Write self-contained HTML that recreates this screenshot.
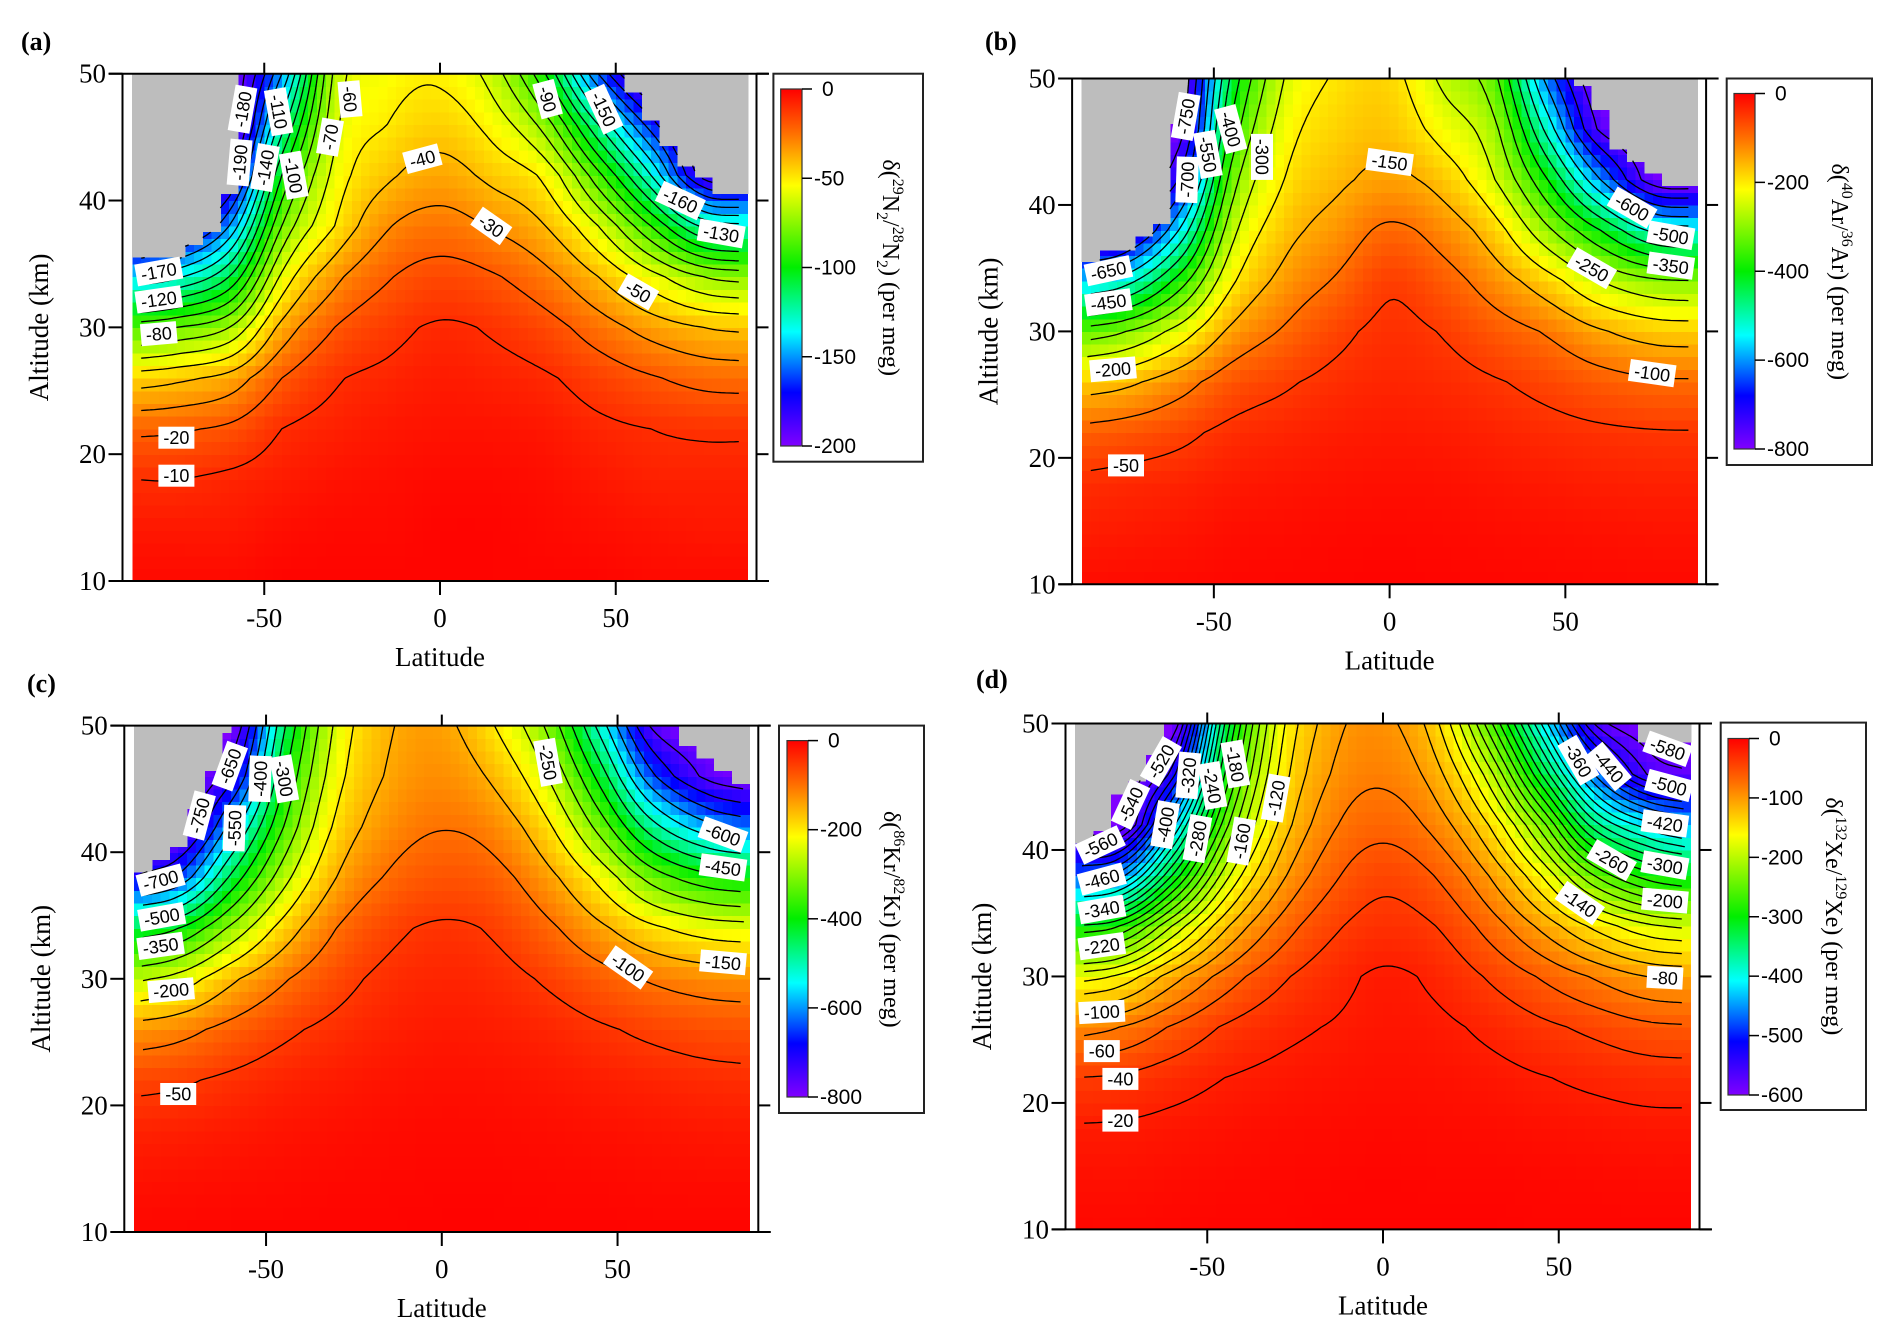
<!DOCTYPE html>
<html><head><meta charset="utf-8">
<style>
html,body{margin:0;padding:0;background:#fff;}
svg{display:block;}
.tk{font-family:"Liberation Serif",serif;font-size:27px;fill:#000;}
.cbt{font-family:"Liberation Sans",sans-serif;font-size:21px;fill:#000;}
.cl{font-family:"Liberation Sans",sans-serif;font-size:18px;fill:#000;}
.ttl{font-family:"Liberation Serif",serif;font-size:24px;fill:#000;}
.let{font-family:"Liberation Serif",serif;font-size:26px;font-weight:bold;fill:#000;}
</style></head>
<body>
<svg id="chart" width="1892" height="1339" viewBox="0 0 1892 1339" xmlns="http://www.w3.org/2000/svg">
<defs>
<linearGradient id="cgrad" x1="0" y1="0" x2="0" y2="1">
<stop offset="0" stop-color="#ff0000"/><stop offset="0.125" stop-color="#ff7000"/><stop offset="0.27" stop-color="#ffff00"/><stop offset="0.5" stop-color="#00ee00"/><stop offset="0.68" stop-color="#00ffff"/><stop offset="0.85" stop-color="#0000ff"/><stop offset="1" stop-color="#8000ff"/>
</linearGradient>
</defs>
</svg>
<script>
// ---- shared grid ----
const latNodes=[-87.5,-75,-60,-45,-30,-15,0,15,30,45,60,75,87.5];
const altNodes=[10,14,18,22,26,30,34,38,42,46,50];
const latTicks=[-50,0,50];
const altTicks=[10,20,30,40,50];

// ---- panel (a) N2 : one column per latNode, values at altNodes ----
const fieldA=[
[-2,-5,-10,-22,-45,-85,-140,-200,-200,-200,-200],
[-2,-5,-10,-21,-42,-80,-132,-185,-200,-200,-200],
[-2,-5,-8,-18,-36,-70,-110,-150,-185,-200,-200],
[-1,-3,-6,-10,-20,-37,-58,-80,-100,-125,-150],
[-1,-2,-4,-7,-11,-20,-33,-50,-57,-63,-68],
[-1,-2,-3,-5,-8,-13,-21,-31,-42,-50,-55],
[-1,-1,-2,-4,-6,-9,-16,-26,-36,-45,-52],
[-1,-1,-2,-4,-7,-11,-19,-31,-43,-54,-65],
[-1,-2,-3,-5,-9,-16,-27,-40,-53,-75,-100],
[-1,-3,-5,-8,-14,-25,-40,-60,-87,-120,-160],
[-2,-4,-7,-10,-19,-34,-56,-90,-130,-165,-200],
[-2,-5,-7,-11,-23,-40,-70,-122,-185,-200,-200],
[-2,-5,-7,-11,-24,-42,-74,-128,-190,-200,-200]];
const levelsA=[-10,-20,-30,-40,-50,-60,-70,-80,-90,-100,-110,-120,-130,-140,-150,-160,-170,-180,-190];
const cbarTicksA=[0,-50,-100,-150,-200];
const maskA=[[-90,-72.5,35.5],[-72.5,-67.5,36.5],[-67.5,-62.5,37.5],[-62.5,-57.5,40.5],[52.5,57.5,48.5],[57.5,62.5,46.3],[62.5,67.5,44.3],[67.5,72.5,42.7],[72.5,77.5,41.8],[77.5,90,40.5]];
const labelsA=[[-57,43,'-190',-85],[-56.2,47.2,'-180',-80],[-45.9,47,'-110',80],[-49.8,42.6,'-140',-80],[-41.6,42,'-100',80],[-31.3,45,'-70',-80],[-25.6,48,'-60',85],[-5,43.3,'-40',-15],[14.6,38,'-30',35],[30.6,48,'-90',75],[46.6,47.2,'-150',65],[68.4,40,'-160',25],[80,37.4,'-130',10],[56.4,32.8,'-50',30],[-80,34.4,'-170',-10],[-80,32.2,'-120',-8],[-80,29.5,'-80',-5],[-75,21.3,'-20',0],[-75,18.3,'-10',0]];

// ---- panel (b) Ar ----
const fieldB=[
[-10,-25,-40,-85,-175,-330,-570,-800,-800,-800,-800],
[-9,-22,-35,-75,-160,-300,-520,-750,-800,-800,-800],
[-8,-18,-30,-60,-120,-230,-380,-550,-700,-780,-800],
[-6,-12,-22,-40,-75,-140,-210,-270,-330,-390,-440],
[-5,-10,-18,-32,-55,-95,-135,-170,-200,-225,-250],
[-4,-8,-15,-25,-40,-60,-95,-130,-160,-180,-195],
[-3,-7,-13,-22,-33,-42,-55,-92,-140,-170,-185],
[-4,-8,-14,-24,-37,-52,-80,-120,-170,-220,-260],
[-5,-10,-18,-30,-47,-78,-125,-180,-250,-290,-340],
[-6,-12,-22,-37,-62,-105,-180,-290,-400,-520,-620],
[-7,-14,-26,-43,-80,-145,-250,-400,-600,-760,-800],
[-8,-16,-28,-47,-93,-170,-290,-510,-780,-800,-800],
[-8,-16,-28,-48,-95,-175,-300,-530,-800,-800,-800]];
const levelsB=[-50,-100,-150,-200,-250,-300,-350,-400,-450,-500,-550,-600,-650,-700,-750];
const cbarTicksB=[0,-200,-400,-600,-800];
const maskB=[[-90,-82.5,35.5],[-82.5,-72.5,36.4],[-72.5,-67.5,37.5],[-67.5,-62.5,38.5],[-62.5,-57.5,46.4],[52.5,57.5,49.4],[57.5,62.5,47.5],[62.5,67.5,44.4],[67.5,72.5,43.4],[72.5,77.5,42.5],[77.5,90,41.5]];
const labelsB=[[-58,47,'-750',-80],[-57.6,42,'-700',-88],[-51.7,44,'-550',80],[-45.2,46,'-400',75],[-36.3,43.8,'-300',90],[0,43.4,'-150',8],[69,39.8,'-600',30],[80,37.6,'-500',10],[80,35.2,'-350',8],[57.5,35,'-250',30],[74.7,26.7,'-100',8],[-80,34.8,'-650',-12],[-80,32.3,'-450',-8],[-78.7,27,'-200',-5],[-75,19.4,'-50',0]];

// ---- panel (c) Kr ----
const fieldC=[
[-5,-15,-30,-60,-130,-260,-440,-700,-800,-800,-800],
[-5,-13,-27,-55,-115,-230,-400,-640,-800,-800,-800],
[-4,-11,-22,-42,-85,-160,-290,-440,-580,-720,-800],
[-4,-9,-17,-30,-58,-105,-180,-270,-350,-410,-460],
[-3,-7,-13,-23,-40,-65,-100,-150,-190,-220,-240],
[-3,-6,-10,-17,-28,-40,-60,-95,-125,-145,-155],
[-2,-5,-8,-14,-22,-32,-45,-75,-102,-125,-140],
[-2,-5,-9,-15,-25,-37,-55,-85,-120,-160,-200],
[-3,-6,-11,-19,-32,-55,-90,-135,-190,-250,-310],
[-3,-7,-14,-25,-45,-80,-140,-215,-320,-420,-520],
[-4,-9,-17,-31,-58,-105,-190,-320,-480,-640,-760],
[-4,-10,-20,-37,-68,-120,-220,-380,-580,-760,-800],
[-4,-10,-21,-40,-72,-125,-230,-400,-620,-800,-800]];
const levelsC=[-50,-100,-150,-200,-250,-300,-350,-400,-450,-500,-550,-600,-650,-700,-750];
const cbarTicksC=[0,-200,-400,-600,-800];
const maskC=[[-90,-82.5,38.4],[-82.5,-77.5,39.4],[-77.5,-72.5,40.4],[-72.5,-67.5,43.4],[-67.5,-62.5,46.4],[-62.5,-60,49.4],[67.5,72.5,48.4],[72.5,77.5,47.4],[77.5,82.5,46.4],[82.5,90,45.4]];
const labelsC=[[-60.3,46.8,'-650',-70],[-69,42.9,'-750',-75],[-59,41.9,'-550',-88],[-51.7,45.8,'-400',-88],[-44.8,45.8,'-300',80],[30.2,47.1,'-250',80],[80,41.4,'-600',20],[80,38.8,'-450',8],[80,31.3,'-150',5],[53,30.9,'-100',35],[-80,37.8,'-700',-15],[-79.7,34.9,'-500',-10],[-80,32.6,'-350',-8],[-77,29.1,'-200',-5],[-75,20.9,'-50',0]];

// ---- panel (d) Xe ----
const fieldD=[
[-5,-10,-18,-40,-90,-170,-300,-480,-600,-600,-600],
[-5,-10,-17,-37,-80,-155,-280,-450,-600,-600,-600],
[-4,-8,-14,-28,-58,-110,-200,-320,-430,-530,-600],
[-3,-6,-11,-20,-38,-72,-125,-190,-250,-300,-340],
[-3,-5,-8,-15,-26,-45,-75,-110,-140,-160,-175],
[-2,-4,-7,-12,-19,-28,-45,-66,-85,-100,-110],
[-2,-3,-6,-10,-14,-17,-32,-46,-68,-85,-95],
[-2,-4,-7,-11,-16,-24,-40,-61,-88,-112,-135],
[-2,-4,-8,-14,-24,-42,-68,-100,-140,-190,-250],
[-3,-5,-10,-19,-35,-62,-105,-160,-230,-320,-400],
[-3,-6,-12,-24,-45,-82,-145,-240,-350,-460,-560],
[-3,-7,-14,-28,-55,-100,-175,-290,-410,-560,-600],
[-3,-7,-14,-29,-58,-105,-185,-310,-440,-580,-600]];
const levelsD=[-20,-40,-60,-80,-100,-120,-140,-160,-180,-200,-220,-240,-260,-280,-300,-320,-340,-360,-380,-400,-420,-440,-460,-480,-500,-520,-540,-560,-580];
const cbarTicksD=[0,-100,-200,-300,-400,-500,-600];
const maskD=[[-90,-82.5,40.5],[-82.5,-77.5,41.5],[-77.5,-72.5,44.4],[-72.5,-67.5,45.4],[-67.5,-62.5,47.5],[72.5,90,48.5]];
const labelsD=[[-63.2,47,'-520',-60],[-71.8,43.6,'-540',-65],[-80.4,40.4,'-560',-25],[-80,37.7,'-460',-15],[-80,35.3,'-340',-10],[-80,32.4,'-220',-8],[-80,27.2,'-100',-3],[-80,24.1,'-60',0],[-74.7,21.9,'-40',0],[-74.7,18.6,'-20',0],[-55.4,45.9,'-320',-85],[-62,42,'-400',-80],[-48.5,45.1,'-240',80],[-52.8,40.9,'-280',-80],[-42,46.8,'-180',80],[-40.3,40.7,'-160',-80],[-30.5,44.1,'-120',-80],[55.6,47.1,'-360',60],[64.2,46.6,'-440',50],[81,48,'-580',20],[81.4,45.1,'-500',15],[80.2,42.1,'-420',8],[65,39.2,'-260',30],[80.2,38.8,'-300',10],[80.2,36,'-200',5],[56,35.8,'-140',35],[80.2,29.9,'-80',3]];

const panels=[
 {id:'a',field:fieldA,levels:levelsA,ticks:cbarTicksA,mask:maskA,labels:labelsA,vmin:-200,x0:440,y50:73.7,y10:581,cb:[773.4,73.7,923,461.7],gr:[780.7,89,802,446],letter:[21,50],t:['29','N','2','28','N','2']},
 {id:'b',field:fieldB,levels:levelsB,ticks:cbarTicksB,mask:maskB,labels:labelsB,vmin:-800,x0:1389.6,y50:78.5,y10:584.3,cb:[1726.7,78.5,1872,465],gr:[1734,93.5,1755,449],letter:[985,50],t:['40','Ar','','36','Ar','']},
 {id:'c',field:fieldC,levels:levelsC,ticks:cbarTicksC,mask:maskC,labels:labelsC,vmin:-800,x0:441.8,y50:725.6,y10:1232,cb:[779,725.6,924,1113],gr:[787,740.6,808,1097],letter:[27,692],t:['86','Kr','','82','Kr','']},
 {id:'d',field:fieldD,levels:levelsD,ticks:cbarTicksD,mask:maskD,labels:labelsD,vmin:-600,x0:1383,y50:723.5,y10:1229.4,cb:[1720.7,722.6,1866,1110],gr:[1728,738.5,1749,1095],letter:[976,688],t:['132','Xe','','129','Xe','']}
];

const PPD=3.515;
const NS='http://www.w3.org/2000/svg';
const svg=document.getElementById('chart');
const stops=[[0,[255,0,0]],[0.125,[255,112,0]],[0.27,[255,255,0]],[0.5,[0,238,0]],[0.68,[0,255,255]],[0.85,[0,0,255]],[1,[128,0,255]]];
function cmap(t){t=Math.max(0,Math.min(1,t));for(let i=0;i<stops.length-1;i++){const a=stops[i],b=stops[i+1];if(t<=b[0]){const f=(t-a[0])/(b[0]-a[0]);return 'rgb('+a[1].map((c,k)=>Math.round(c+(b[1][k]-c)*f)).join(',')+')';}}return 'rgb(128,0,255)';}
function mk(tag,attrs,parent){const e=document.createElementNS(NS,tag);for(const k in attrs)e.setAttribute(k,attrs[k]);(parent||svg).appendChild(e);return e;}
function idx(nodes,v){let i=0;while(i<nodes.length-2&&v>nodes[i+1])i++;return i;}
function colAt(F,i,alt){const j=idx(altNodes,alt);const fy=Math.max(0,Math.min(1,(alt-altNodes[j])/(altNodes[j+1]-altNodes[j])));return F[i][j]*(1-fy)+F[i][j+1]*fy;}
function val(F,lat,alt){const i=idx(latNodes,lat);const t=Math.max(0,Math.min(1,(lat-latNodes[i])/(latNodes[i+1]-latNodes[i])));
 const n=latNodes.length;const p1=colAt(F,i,alt),p2=colAt(F,i+1,alt);
 const p0=i>0?colAt(F,i-1,alt):2*p1-p2;const p3=i+2<n?colAt(F,i+2,alt):2*p2-p1;
 const t2=t*t,t3=t2*t;
 let v=0.5*((2*p1)+(-p0+p2)*t+(2*p0-5*p1+4*p2-p3)*t2+(-p0+3*p1-3*p2+p3)*t3);
 return Math.min(v,0);}
function maskTop(M,lat){for(const s of M){if(lat>=s[0]&&lat<s[1])return s[2];}return 50;}

panels.forEach(P=>{
 const X=lat=>P.x0+lat*PPD;
 const Y=alt=>P.y10+(alt-10)*(P.y50-P.y10)/40;
 const g=mk('g',{});
 
 
 const hm=mk('g',{'shape-rendering':'crispEdges'},g);
 
 
 for(let lat=-87.5;lat<87.49;lat+=2.5){for(let alt=10;alt<50;alt+=1){
  const v=val(P.field,lat+1.25,alt+0.5);
  const r=mk('rect',{x:X(lat).toFixed(1),y:Y(alt+1).toFixed(1),width:(2.5*PPD+0.6).toFixed(1),height:((P.y10-P.y50)/40+0.6).toFixed(1),fill:cmap(v/P.vmin)},hm);
  
  
 }}
 P.mask.forEach(s=>{const l=Math.max(s[0],-87.6),h=Math.min(s[1],87.6);
  const r=mk('rect',{x:X(l),y:Y(50),width:X(h)-X(l)+0.5,height:Y(s[2])-Y(50),fill:'#bdbdbd'},hm);
  
  });
 const dl=1.25,da=0.25;const nx=Math.round(175/dl)+1,ny=Math.round(40/da)+1;
 const grid=[];for(let i=0;i<nx;i++){grid.push([]);for(let j=0;j<ny;j++)grid[i].push(val(P.field,-87.5+i*dl,10+j*da));}
 const cg=mk('g',{fill:'none',stroke:'#000','stroke-width':1.3},g);
 
 
 P.levels.forEach(L=>{let d='';
  for(let i=0;i<nx-1;i++)for(let j=0;j<ny-1;j++){
   const c=[[i,j],[i+1,j],[i+1,j+1],[i,j+1]];const pts=[];
   for(let k=0;k<4;k++){const p=c[k],q=c[(k+1)%4];const vp=grid[p[0]][p[1]]-L,vq=grid[q[0]][q[1]]-L;
    if((vp<0)!==(vq<0)){const f=vp/(vp-vq);pts.push([-87.5+(p[0]+(q[0]-p[0])*f)*dl,10+(p[1]+(q[1]-p[1])*f)*da]);}}
   for(let k=0;k+1<pts.length;k+=2){const ml=(pts[k][0]+pts[k+1][0])/2,ma=(pts[k][1]+pts[k+1][1])/2;
    if(ma>maskTop(P.mask,ml)||ml<-85.5||ml>85.5)continue;
    d+='M'+X(pts[k][0]).toFixed(1)+' '+Y(pts[k][1]).toFixed(1)+'L'+X(pts[k+1][0]).toFixed(1)+' '+Y(pts[k+1][1]).toFixed(1);}
  }
  const p=mk('path',{d:d},cg);
  
  
 });
 P.labels.forEach(Lb=>{const lg=mk('g',{transform:'translate('+X(Lb[0]).toFixed(1)+','+Y(Lb[1]).toFixed(1)+') rotate('+Lb[3]+')'},g);
  
  
  const w=Lb[2].length*10+6;
  mk('rect',{x:-w/2,y:-11,width:w,height:22,fill:'#fff'},lg);
  const t=mk('text',{x:0,y:6.5,'text-anchor':'middle',class:'cl'},lg);t.textContent=Lb[2];});
 const ax=mk('g',{stroke:'#000','stroke-width':2,fill:'none'},g);
 
 
 const xl=P.x0-317.5,xr=P.x0+316.5;
 mk('line',{x1:xl,y1:P.y50,x2:xl,y2:P.y10},ax);
 mk('line',{x1:xr,y1:P.y50,x2:xr,y2:P.y10},ax);
 mk('line',{x1:P.x0-331,y1:P.y50,x2:P.x0+329,y2:P.y50},ax);
 mk('line',{x1:P.x0-331,y1:P.y10,x2:P.x0+329,y2:P.y10},ax);
 latTicks.forEach(v=>{mk('line',{x1:X(v),y1:P.y10,x2:X(v),y2:P.y10+14},ax);mk('line',{x1:X(v),y1:P.y50,x2:X(v),y2:P.y50-11},ax);
  const t=mk('text',{x:X(v),y:P.y10+46,'text-anchor':'middle',class:'tk',stroke:'none'},g);t.textContent=v;
  
  });
 altTicks.forEach(v=>{mk('line',{x1:xl-14,y1:Y(v),x2:xl,y2:Y(v)},ax);mk('line',{x1:xr,y1:Y(v),x2:xr+12,y2:Y(v)},ax);
  const t=mk('text',{x:P.x0-334,y:Y(v)+9,'text-anchor':'end',class:'tk'},g);t.textContent=v;
  
  });
 const xt=mk('text',{x:P.x0,y:P.y10+85,'text-anchor':'middle',class:'tk'},g);xt.textContent='Latitude';
 
 
 const yt=mk('text',{x:0,y:0,'text-anchor':'middle',class:'tk',transform:'translate('+(P.x0-392)+','+((P.y10+P.y50)/2)+') rotate(-90)'},g);yt.textContent='Altitude (km)';
 
 
 const lt=mk('text',{x:P.letter[0],y:P.letter[1],class:'let'},g);lt.textContent='('+P.id+')';
 
 
 const cb=mk('g',{},g);
 
 
 mk('rect',{x:P.cb[0],y:P.cb[1],width:P.cb[2]-P.cb[0],height:P.cb[3]-P.cb[1],fill:'#fff',stroke:'#222','stroke-width':2},cb);
 mk('rect',{x:P.gr[0],y:P.gr[1],width:P.gr[2]-P.gr[0],height:P.gr[3]-P.gr[1],fill:'url(#cgrad)',stroke:'#333','stroke-width':1.2},cb);
 P.ticks.forEach(v=>{const y=P.gr[1]+(v/P.vmin)*(P.gr[3]-P.gr[1]);
  mk('line',{x1:P.gr[2],y1:y,x2:P.gr[2]+10,y2:y,stroke:'#000','stroke-width':1.5},cb);
  const t=mk('text',{x:P.gr[2]+(v===0?20:12),y:y+7,class:'cbt'},cb);t.textContent=v;
  
  });
 const tt=mk('text',{x:0,y:0,'text-anchor':'middle',class:'ttl',transform:'translate('+(P.cb[2]-40)+','+((P.cb[1]+P.cb[3])/2)+') rotate(90)'},cb);
 
 
 const parts=[['δ(',0],[P.t[0],-10],[P.t[1],0],[P.t[2],6],['/',0],[P.t[3],-10],[P.t[4],0],[P.t[5],6],[') (per meg)',0]];
 let prev=0;parts.forEach(pt=>{if(!pt[0])return;const s=document.createElementNS(NS,'tspan');s.setAttribute('dy',pt[1]-prev);prev=pt[1];if(pt[1]!==0)s.setAttribute('font-size','16');s.textContent=pt[0];tt.appendChild(s);});
});
</script>
</body></html>
